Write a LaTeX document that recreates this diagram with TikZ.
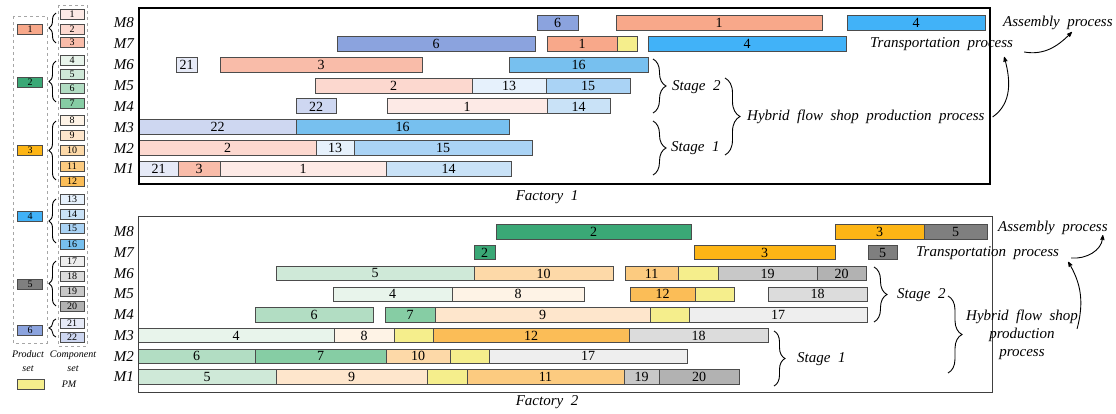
\documentclass[tikz,border=0pt]{standalone}
\usepackage{fontspec}
\setmainfont{Liberation Serif}
\usetikzlibrary{arrows.meta, decorations.pathreplacing}
% products
\definecolor{p1}{HTML}{F8A88A}\definecolor{p2}{HTML}{3AA876}
\definecolor{p3}{HTML}{FDB515}\definecolor{p4}{HTML}{41B2F8}
\definecolor{p5}{HTML}{7F7F7F}\definecolor{p6}{HTML}{8BA3DE}
% components
\definecolor{c1}{HTML}{FDEAE6}\definecolor{c2}{HTML}{FCD8CF}\definecolor{c3}{HTML}{F9BCA9}
\definecolor{c4}{HTML}{E8F4EB}\definecolor{c5}{HTML}{CFE9D8}\definecolor{c6}{HTML}{B2DDC3}
\definecolor{c7}{HTML}{86CDA4}\definecolor{c8}{HTML}{FEF3E6}\definecolor{c9}{HTML}{FEE6CC}
\definecolor{c10}{HTML}{FDD9A8}\definecolor{c11}{HTML}{FCCB80}\definecolor{c12}{HTML}{FBBD57}
\definecolor{c13}{HTML}{E6F1FC}\definecolor{c14}{HTML}{C9E2F7}\definecolor{c15}{HTML}{AAD3F5}
\definecolor{c16}{HTML}{77C0EF}\definecolor{c17}{HTML}{EEEEEE}\definecolor{c18}{HTML}{DCDCDC}
\definecolor{c19}{HTML}{C8C8C8}\definecolor{c20}{HTML}{B2B2B2}\definecolor{c21}{HTML}{E6EAF7}
\definecolor{c22}{HTML}{CED7F1}\definecolor{pm}{HTML}{F5EE8C}
\newcommand\lblfont{\fontsize{15}{18}\selectfont\itshape\spaceskip=0.5em\relax}
\begin{document}
\begin{tikzpicture}[
      x=1pt, y=-1pt, >={Stealth[round]},
      bar/.style={draw=black!70, line width=0.9pt},
      num/.style={font=\fontsize{14}{14}\selectfont, inner sep=0pt},
      legbox/.style={draw=black!70, line width=0.9pt, minimum height=10pt, inner sep=0pt,
        font=\fontsize{10}{10}\selectfont},
      legtxt/.style={font=\fontsize{10}{14}\selectfont\itshape, inner sep=0pt},
      lbl/.style={font=\lblfont, inner sep=0pt},
      brc/.style={decorate, decoration={brace, amplitude=#1}, line width=0.9pt},
      brc/.default=13pt
      ]
  \useasboundingbox (0,0) rectangle (1116,414);

  % legend
  \draw[dashed, gray!70] (13,16) rectangle (47,343);
  \draw[dashed, gray!70] (58,5) rectangle (87,346);
  \foreach \k/\yy in {1/14, 2/29, 3/42, 4/60, 5/74, 6/88, 7/103, 8/120, 9/135, 10/150, 11/166,
      12/181, 13/199, 14/214, 15/228, 16/244, 17/261, 18/276, 19/291, 20/306, 21/323, 22/337}
    \node[legbox, fill=c\k, minimum width=24pt] (comp\k) at (72,\yy) {\k};
  \foreach \k/\yy/\ya/\yb in {1/29/13/43, 2/82/61/102, 3/150/121/180, 4/216/199/243,
      5/284/261/306, 6/330/319/337} {
    \node[legbox, fill=p\k, minimum width=25pt] (prod\k) at (30,\yy) {\k};
    \draw[brc=7pt] (56,\yb) -- (56,\ya);
  }
  \node[legtxt, align=center] (prodset) at (28,361) {Product\\set};
  \node[legtxt, align=center] (compset) at (73,361) {Component\\set};
  \node[legbox, fill=pm, minimum width=27pt] (pmbox) at (30.5,384) {};
  \node[legtxt] (pmtxt) at (69,384) {PM};

  % factory 1
  \foreach \a/\b/\m/\t/\c in {139/178/1/21/c21, 178/220/1/3/c3, 220/386/1/1/c1, 386/511/1/14/c14,
      139/316/2/2/c2, 316/354/2/13/c13, 354/532/2/15/c15,
      139/296/3/22/c22, 296/509/3/16/c16,
      296/336/4/22/c22, 387/547/4/1/c1, 547/610/4/14/c14,
      315/472/5/2/c2, 472/546/5/13/c13, 546/630/5/15/c15,
      176/197/6/21/c21, 220/422/6/3/c3, 509/648/6/16/c16,
      337/535/7/6/p6, 547/617/7/1/p1, 617/637/7/{}/pm, 648/846/7/4/p4,
      537/578/8/6/p6, 616/822/8/1/p1, 847/985/8/4/p4} {
    \pgfmathsetmacro\yc{169-(\m-1)*20.86}
    \draw[bar, fill=\c] (\a,\yc-7.5) rectangle (\b,\yc+7.5) node[num, midway] (fa\m-\a) {\t};
  }
  \foreach \m in {1,...,8}
    \node[lbl, anchor=east] (fam\m) at (134,{169-(\m-1)*20.86}) {M\m};
  \draw[line width=2pt] (139,8) rectangle (990,184);
  \node[lbl] (fac1) at (547,197) {Factory 1};

  \draw[brc] (653,59) -- (653,113);
  \node[lbl, anchor=west] (stga2) at (672,87) {Stage 2};
  \draw[brc] (653,121) -- (653,175);
  \node[lbl, anchor=west] (stga1) at (671,148) {Stage 1};
  \draw[brc=15pt] (725,78) -- (725,155);
  \node[lbl, anchor=west] (hyba) at (747,117) {Hybrid flow shop production process};
  \node[lbl, anchor=west] (trna) at (870,44) {Transportation process};
  \node[lbl, anchor=west] (asma) at (1003,23) {Assembly process};
  \draw[->, line width=0.9pt] ([xshift=8pt]hyba.east) to[out=35, in=-75] ([xshift=-9pt,yshift=-6pt]trna.south east);
  \draw[->, line width=0.9pt] ([xshift=11pt,yshift=-8pt]trna.east) to[out=-10, in=225] ([xshift=14pt,yshift=-2pt]asma.south);

  % factory 2
  \foreach \a/\b/\m/\t/\c in {138/276/1/5/c5, 276/427/1/9/c9, 427/467/1/{}/pm, 467/624/1/11/c11,
      624/659/1/19/c19, 659/739/1/20/c20,
      138/255/2/6/c6, 255/386/2/7/c7, 386/450/2/10/c10, 450/489/2/{}/pm, 489/687/2/17/c17,
      138/334/3/4/c4, 334/394/3/8/c8, 394/433/3/{}/pm, 433/629/3/12/c12, 629/768/3/18/c18,
      255/373/4/6/c6, 385/435/4/7/c7, 435/650/4/9/c9, 650/689/4/{}/pm, 689/867/4/17/c17,
      333/452/5/4/c4, 452/584/5/8/c8, 630/695/5/12/c12, 695/734/5/{}/pm, 768/867/5/18/c18,
      276/474/6/5/c5, 474/613/6/10/c10, 625/678/6/11/c11, 678/718/6/{}/pm, 718/817/6/19/c19,
      817/866/6/20/c20,
      474/495/7/2/p2, 694/835/7/3/p3, 868/897/7/5/p5,
      496/691/8/2/p2, 835/924/8/3/p3, 924/987/8/5/p5} {
    \pgfmathsetmacro\yc{377-(\m-1)*20.71}
    \draw[bar, fill=\c] (\a,\yc-7.2) rectangle (\b,\yc+7.2) node[num, midway] (fb\m-\a) {\t};
  }
  \foreach \m in {1,...,8}
    \node[lbl, anchor=east] (fbm\m) at (134,{377-(\m-1)*20.71}) {M\m};
  \draw[line width=0.8pt, black!75] (138,216) rectangle (992,392);
  \node[lbl] (fac2) at (547,402) {Factory 2};

  \draw[brc] (874,267) -- (874,322);
  \node[lbl, anchor=west] (stgb2) at (897,295) {Stage 2};
  \draw[brc=11pt] (774,331) -- (774,386);
  \node[lbl, anchor=west] (stgb1) at (797,359) {Stage 1};
  \draw[brc=14pt] (948,296) -- (948,373);
  \node[lbl, align=center] (hybb) at (1022,335) {Hybrid flow shop\\production\\process};
  \node[lbl, anchor=west] (trnb) at (916,253) {Transportation process};
  \node[lbl, anchor=west] (asmb) at (998,228) {Assembly process};
  \draw[->, line width=0.9pt] ([xshift=-1pt,yshift=-19pt]hybb.north east) to[out=75, in=-60] ([xshift=9pt,yshift=-2pt]trnb.south east);
  \draw[->, line width=0.9pt] ([xshift=12pt,yshift=-5pt]trnb.east) to[out=-5, in=-95] ([xshift=-5pt]asmb.south east);
\end{tikzpicture}
\end{document}
